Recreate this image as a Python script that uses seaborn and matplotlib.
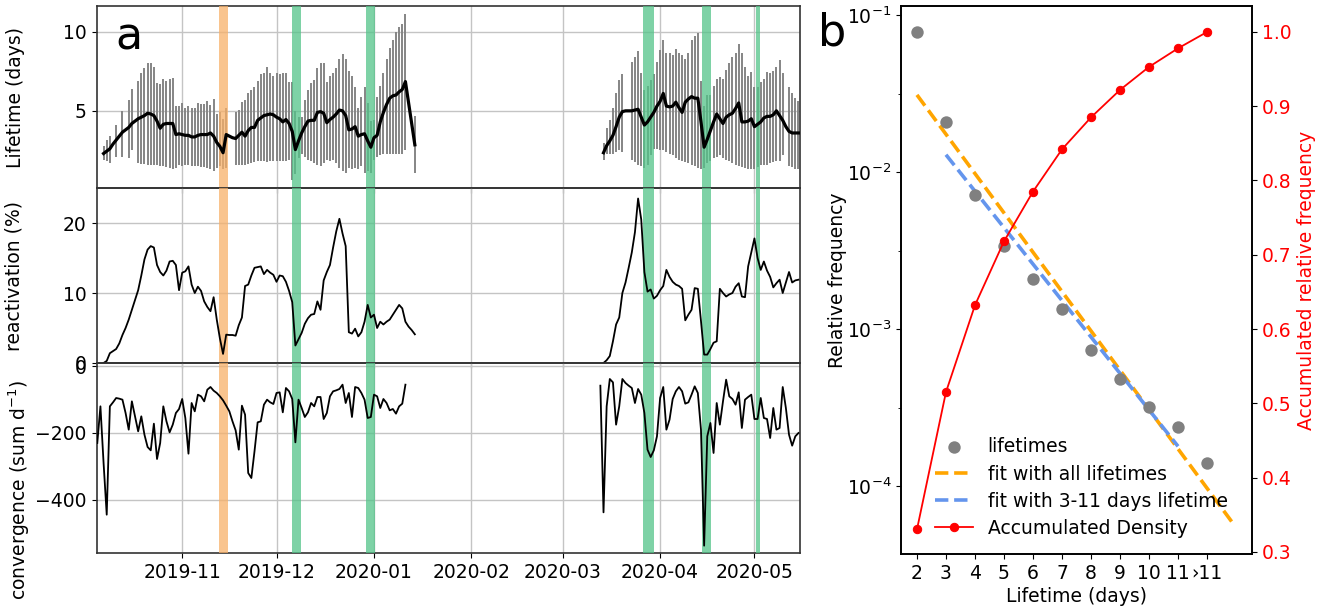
import numpy as np
import pandas as pd
import seaborn as sns
import matplotlib.pyplot as plt
import matplotlib.dates as mdates
from matplotlib.ticker import FixedLocator, NullFormatter

nan = np.nan

# ---------------- panel a : daily series, two observation periods ----------------
period1_start = '2019-10-07'
period2_start = '2020-03-14'
conv1_start = '2019-10-05'
conv2_start = '2020-03-13'

life1_mean = [2.30, 2.45, 2.60, 2.90, 3.15, 3.40, 3.65, 3.80, 3.95, 4.20,
              4.35, 4.50, 4.60, 4.70, 4.85, 4.80, 4.70, 4.35, 3.90, 4.15,
              4.20, 4.20, 4.20, 3.50, 3.55, 3.50, 3.45, 3.45, 3.35, 3.35,
              3.45, 3.50, 3.50, 3.50, 3.60, 3.40, 3.00, 2.75, 2.35, 3.50,
              3.40, 3.30, 3.25, 3.45, 3.65, 3.40, 3.75, 3.95, 3.95, 4.40,
              4.55, 4.70, 4.75, 4.80, 4.75, 4.60, 4.50, 4.30, 4.45, 4.20,
              3.70, 2.55, 3.10, 3.60, 4.00, 4.35, 4.40, 4.40, 4.90, 4.95,
              4.85, 4.25, 4.45, 4.60, 4.80, 5.05, 5.00, 4.70, 3.80, 3.85,
              4.00, 3.40, 3.50, 3.55, 3.10, 2.70, 3.30, 3.45, 4.30, 4.90,
              5.40, 5.80, 5.95, 6.00, 6.20, 6.35, 6.85, nan, nan, 2.85]
life1_low = [1.90, 1.80, 1.70, nan, 2.10, nan, 2.10, nan, 2.00, 2.50,
             nan, 1.70, 1.65, 1.65, 1.60, 1.60, 1.60, 1.55, 1.50, 1.50,
             1.45, 1.40, 1.30, 1.40, 1.55, 1.50, 1.60, 1.60, 1.50, 1.50,
             1.50, 1.45, 1.45, 1.40, 1.30, 1.20, 1.40, 1.50, 1.30, 1.40,
             nan, nan, 1.60, 1.55, 1.55, 1.60, 1.65, 1.70, 1.75, 1.80,
             1.85, 1.85, 1.75, 1.80, 1.85, 1.80, 1.80, 1.80, 1.85, 1.90,
             0.65, 1.00, 2.00, 2.30, 2.10, 1.90, 1.80, 1.70, 1.60, 1.50,
             1.70, 1.90, 1.80, 1.90, 1.70, 1.40, 1.20, 1.10, 1.40, 1.30,
             1.40, 1.30, 1.50, 1.10, 1.20, 1.10, 1.90, 2.10, 2.20, 2.30,
             2.30, 2.30, 2.30, 2.25, 2.25, 2.30, 2.50, nan, nan, 1.10]
life1_high = [2.75, 3.15, 3.40, nan, 4.10, nan, 5.00, nan, 5.70, 6.35,
              nan, 6.90, 7.40, 7.70, 8.05, 8.00, 7.75, 6.75, 6.70, 7.00,
              6.90, 7.00, 7.10, 5.30, 5.30, 5.50, 5.20, 5.30, 5.20, 5.15,
              5.50, 5.45, 5.45, 5.60, 5.40, 5.75, 4.80, 4.90, 4.50, 5.20,
              nan, nan, 4.90, 5.05, 5.55, 5.70, 6.10, 6.30, 6.50, 6.90,
              7.30, 7.40, 7.80, 7.40, 7.20, 7.40, 7.35, 7.40, 7.40, 6.80,
              6.85, 5.00, 4.60, 4.60, 5.70, 6.30, 6.75, 6.95, 7.70, 8.00,
              8.00, 6.85, 7.20, 7.40, 7.70, 8.30, 8.60, 8.30, 7.50, 7.20,
              6.50, 5.20, 5.90, 6.50, 5.50, 4.35, 4.45, 5.90, 6.60, 7.40,
              8.30, 9.00, 9.50, 10.00, 10.30, 10.50, 11.10, nan, nan, 4.65]

life2_mean = [2.35, 2.80, 3.10, 3.45, 4.00, 4.60, 4.95, 5.00, 5.00, 5.00,
              5.05, 5.10, 4.60, 4.10, 4.30, 4.60, 4.90, 5.30, 5.60, 6.10,
              5.30, 5.25, 5.30, 5.55, 5.20, 4.90, 5.55, 5.75, 5.90, 5.80,
              5.80, 4.30, 2.70, 3.20, 3.75, 4.30, 4.80, 4.50, 4.20, 4.60,
              4.75, 4.85, 5.15, 5.50, 4.30, 4.30, 4.35, 4.50, 4.00, 4.15,
              4.30, 4.55, 4.65, 4.65, 4.75, 5.00, 4.70, 4.40, 4.00, 3.70,
              3.60, 3.60, 3.60]
life2_low = [1.90, 2.30, 2.25, 2.30, 2.40, 2.50, 2.40, nan, nan, 1.90,
             1.75, 1.60, 1.50, 1.40, 1.60, 2.20, 2.60, 2.60, 2.50, 2.50,
             2.40, 2.30, 2.20, 2.00, 1.90, 1.80, 1.75, 1.70, 1.60, 1.50,
             1.40, 1.30, 1.40, 1.70, 1.80, 2.00, 2.10, 2.20, 2.00, 1.90,
             1.80, 1.70, 1.60, 1.50, 1.45, 1.40, 1.35, 1.30, 1.30, 1.45,
             1.55, 1.60, 1.60, 1.70, 1.75, 1.80, 1.85, 2.20, nan, 1.50,
             1.45, 1.30, 1.30]
life2_high = [2.95, 3.90, 4.40, 5.15, 6.10, 6.95, 7.30, nan, nan, 8.10,
              8.40, 8.80, 7.40, 6.30, 6.60, 6.95, 7.30, 8.10, 8.85, 9.50,
              8.65, 8.65, 8.55, 8.90, 8.65, 8.50, 8.25, 8.65, 9.45, 9.75,
              9.90, 6.90, 5.30, 6.00, 6.00, 6.60, 7.00, 7.15, 7.00, 7.60,
              8.00, 8.40, 8.65, 9.20, 8.65, 7.80, 7.20, 7.45, 6.50, 6.50,
              6.80, 7.00, 7.45, 7.40, 7.50, 7.80, 8.20, 7.40, nan, 6.50,
              6.10, 5.80, 5.60]

react1 = [0.0, 0.3, 1.4, 1.7, 2.0, 2.8, 4.0, 5.0, 6.2, 7.6,
          9.0, 10.4, 12.5, 14.8, 16.2, 16.7, 16.5, 14.0, 13.0, 12.5,
          13.2, 14.5, 14.6, 14.0, 10.4, 12.9, 13.1, 13.8, 11.2, 10.0,
          10.9, 10.3, 8.8, 8.0, 7.4, 9.4, 6.2, 3.5, 1.3, 4.05,
          4.0, 4.0, 3.9, 5.4, 6.5, 11.0, 11.2, 12.5, 13.6, 13.7,
          13.8, 12.7, 13.3, 12.9, 12.6, 11.6, 12.5, 12.4, 11.6, 10.3,
          8.7, 2.5, 3.4, 4.3, 5.6, 6.4, 6.9, 7.0, 8.8, 7.6,
          11.8, 13.0, 14.0, 16.5, 18.8, 20.6, 18.5, 16.7, 4.4, 4.2,
          4.9, 3.8, 4.4, 5.9, 8.3, 6.5, 6.9, 5.0, 5.9, 5.5,
          5.9, 6.2, 6.9, 7.6, 8.3, 7.8, 5.9, 5.2, 4.7, 4.1]
react2 = [0.0, 0.4, 1.0, 3.1, 5.5, 6.5, 10.0, 11.5, 13.6, 15.8,
          18.7, 23.5, 20.5, 13.0, 10.2, 10.5, 9.2, 9.6, 10.4, 11.0,
          13.3, 12.3, 11.6, 11.2, 11.0, 10.6, 6.1, 6.9, 7.6, 10.7,
          10.6, 6.0, 1.2, 1.2, 2.0, 2.9, 3.1, 10.6, 10.0, 9.5,
          9.8, 10.0, 10.9, 11.4, 9.5, 9.4, 13.8, 15.8, 17.8, 15.0,
          13.3, 14.5, 13.2, 12.3, 10.8, 11.4, 11.9, 10.0, 11.5, 13.0,
          11.5, 11.8, 11.9]

conv1 = [-230, -120, -290, -445, -120, -108, -95, -97, -100, -140,
         -190, -105, -150, -195, -150, -205, -242, -252, -172, -278,
         -230, -120, -165, -198, -175, -140, -128, -98, -155, -262,
         -110, -135, -85, -90, -105, -70, -62, -73, -80, -90,
         -102, -118, -135, -165, -192, -250, -118, -145, -320, -335,
         -255, -168, -165, -115, -100, -108, -113, -80, -78, -138,
         -65, -75, -98, -228, -100, -125, -152, -138, -110, -120,
         -92, -92, -158, -140, -90, -75, -72, -68, -55, -110,
         -80, -152, -62, -65, -80, -100, -155, -152, -85, -90,
         -125, -98, -110, -132, -128, -142, -120, -112, -55]
conv2 = [-58, -438, -120, -38, -48, -175, -120, -38, -50, -58,
         -65, -110, -68, -85, -140, -250, -272, -252, -210, -95,
         -62, -190, -160, -98, -75, -62, -75, -112, -108, -85,
         -60, -80, -190, -538, -210, -170, -260, -110, -175, -105,
         -40, -90, -98, -115, -78, -185, -100, -92, -85, -158,
         -158, -95, -155, -158, -215, -125, -190, -185, -62, -125,
         -205, -238, -210, -200]

orange_spans = [('2019-11-12 18:00', '2019-11-15 14:00')]
green_spans = [('2019-12-06 02:00', '2019-12-08 22:00'),
               ('2019-12-29 14:00', '2020-01-01 10:00'),
               ('2020-03-26 17:00', '2020-03-29 22:00'),
               ('2020-04-14 07:00', '2020-04-17 05:00'),
               ('2020-05-01 15:00', '2020-05-02 22:00')]

# ---------------- panel b : lifetime distribution ----------------
lifetime_labels = ['2', '3', '4', '5', '6', '7', '8', '9', '10', '11', '\u203a11']
lifetime_freq = [0.078, 0.0209, 0.0072, 0.0034, 0.0021, 0.00135,
                 0.00074, 0.00048, 0.00032, 0.00024, 0.00014]
acc_density = [0.330, 0.515, 0.632, 0.718, 0.785, 0.842,
               0.885, 0.922, 0.953, 0.978, 1.000]
fit_all_x = [2, 12.9]
fit_all_y = [0.031, 5.8e-5]
fit_311_x = [3, 11]
fit_311_y = [0.0129, 1.8e-4]
acc_ticks = [0.3, 0.4, 0.5, 0.6, 0.7, 0.8, 0.9, 1.0]


def daily(start, **cols):
    df = pd.DataFrame(cols)
    df.insert(0, 'date', pd.date_range(start, periods=len(df), freq='D'))
    return df


life = [daily(period1_start, mean=life1_mean, low=life1_low, high=life1_high),
        daily(period2_start, mean=life2_mean, low=life2_low, high=life2_high)]
react = [daily(period1_start, value=react1), daily(period2_start, value=react2)]
conv = [daily(conv1_start, value=conv1), daily(conv2_start, value=conv2)]

plt.rcParams['font.size'] = 13.5
W, H = 1326, 609
fig = plt.figure(figsize=(W / 100, H / 100), dpi=100)


def px_axes(x0, y0, x1, y1, **kw):
    return fig.add_axes([x0 / W, 1 - y1 / H, (x1 - x0) / W, (y1 - y0) / H], **kw)


ax_life = px_axes(96.5, 6, 799.5, 188)
ax_react = px_axes(96.5, 188, 799.5, 363, sharex=ax_life)
ax_conv = px_axes(96.5, 363, 799.5, 553, sharex=ax_life)
ax_b = px_axes(901, 6, 1252, 554)

ORANGE = '#f7b068'
GREEN = '#53c389'

for df in life:
    bars = df.dropna(subset=['low', 'high'])
    ax_life.vlines(bars['date'], bars['low'], bars['high'], color='#858585', lw=1.4, zorder=2)
    sns.lineplot(data=df.dropna(subset=['mean']), x='date', y='mean', ax=ax_life,
                 color='black', lw=2.3, zorder=5)
for df in react:
    sns.lineplot(data=df, x='date', y='value', ax=ax_react, color='black', lw=1.3, zorder=5)
for df in conv:
    sns.lineplot(data=df, x='date', y='value', ax=ax_conv, color='black', lw=1.3, zorder=5)

for ax in (ax_life, ax_react, ax_conv):
    for a, b in orange_spans:
        ax.axvspan(pd.Timestamp(a), pd.Timestamp(b), color=ORANGE, alpha=0.75, lw=0, zorder=3)
    for a, b in green_spans:
        ax.axvspan(pd.Timestamp(a), pd.Timestamp(b), color=GREEN, alpha=0.75, lw=0, zorder=3)
    ax.grid(True, color='#c4c4c4', lw=1.0)
    ax.set_axisbelow(True)
    ax.set_xlabel('')
    ax.patch.set_visible(False)
    for s in ax.spines.values():
        s.set_color('#333333')
        s.set_linewidth(1.2)

ax_life.set_ylim(0.12, 11.63)
ax_life.set_yticks([5, 10])
ax_react.set_ylim(0, 25)
ax_react.set_yticks([0, 10, 20])
ax_conv.set_ylim(-560, 10)
ax_conv.set_yticks([-400, -200, 0])

ax_life.set_ylabel('Lifetime (days)')
ax_react.set_ylabel('reactivation (%)')
ax_conv.set_ylabel('convergence (sum d$^{-1}$)')
ax_life.yaxis.set_label_coords(-0.1017, 0.5)
ax_react.yaxis.set_label_coords(-0.1045, 0.5)
ax_conv.yaxis.set_label_coords(-0.0922, 0.33)

ax_life.tick_params(labelbottom=False)
ax_react.tick_params(labelbottom=False)
ax_conv.xaxis.set_major_locator(mdates.MonthLocator())
ax_conv.xaxis.set_major_formatter(mdates.DateFormatter('%Y-%m'))
ax_conv.set_xlim(pd.Timestamp('2019-10-04 18:00'), pd.Timestamp('2020-05-15 08:00'))

# ---------------- panel b ----------------
pos = np.arange(2, 2 + len(lifetime_labels))
ax_b.set_yscale('log')
sns.scatterplot(x=pos, y=lifetime_freq, ax=ax_b, color='gray', s=80, linewidth=0,
                label='lifetimes', zorder=3)
sns.lineplot(x=fit_all_x, y=fit_all_y, ax=ax_b, color='orange', lw=2.6, linestyle='--',
             label='fit with all lifetimes')
sns.lineplot(x=fit_311_x, y=fit_311_y, ax=ax_b, color='cornflowerblue', lw=2.6,
             linestyle='--', label='fit with 3-11 days lifetime')

ax_acc = ax_b.twinx()
sns.lineplot(x=pos, y=acc_density, ax=ax_acc, color='red', lw=1.3, marker='o',
             markersize=6, markeredgecolor='red', label='Accumulated Density')

h1, l1 = ax_b.get_legend_handles_labels()
h2, l2 = ax_acc.get_legend_handles_labels()
for ax in (ax_b, ax_acc):
    if ax.get_legend() is not None:
        ax.get_legend().remove()
ax_acc.legend(h1 + h2, l1 + l2, loc='lower left', bbox_to_anchor=(0.0755, 0.0155),
              borderaxespad=0, frameon=False, labelspacing=0.44, scatterpoints=1)

ax_b.set_xlim(1.45, 13.55)
ax_b.set_xticks(pos)
ax_b.set_xticklabels(lifetime_labels)
ax_b.set_ylim(10 ** -4.43, 10 ** -0.943)
ax_b.yaxis.set_major_locator(FixedLocator([1e-4, 1e-3, 1e-2, 1e-1]))
ax_b.yaxis.set_minor_locator(FixedLocator([10 ** -3.5, 10 ** -2.5, 10 ** -1.5]))
ax_b.yaxis.set_minor_formatter(NullFormatter())
ax_b.set_xlabel('Lifetime (days)')
ax_b.set_ylabel('Relative frequency')
ax_b.xaxis.set_label_coords(0.5, -0.06)
ax_b.yaxis.set_label_coords(-0.154, 0.5)

ax_acc.set_ylim(0.297, 1.035)
ax_acc.set_yticks(acc_ticks)
ax_acc.tick_params(axis='y', labelcolor='red')
ax_acc.set_ylabel('Accumulated relative frequency', color='red')
ax_acc.yaxis.set_label_coords(1.128, 0.5)
for ax in (ax_b, ax_acc):
    for s in ax.spines.values():
        s.set_linewidth(1.2)

fig.text(115.5 / W, 1 - 50 / H, 'a', fontsize=32, va='baseline')
fig.text(818 / W, 1 - 45 / H, 'b', fontsize=32, va='baseline')

fig.savefig('out.png', dpi=100)
